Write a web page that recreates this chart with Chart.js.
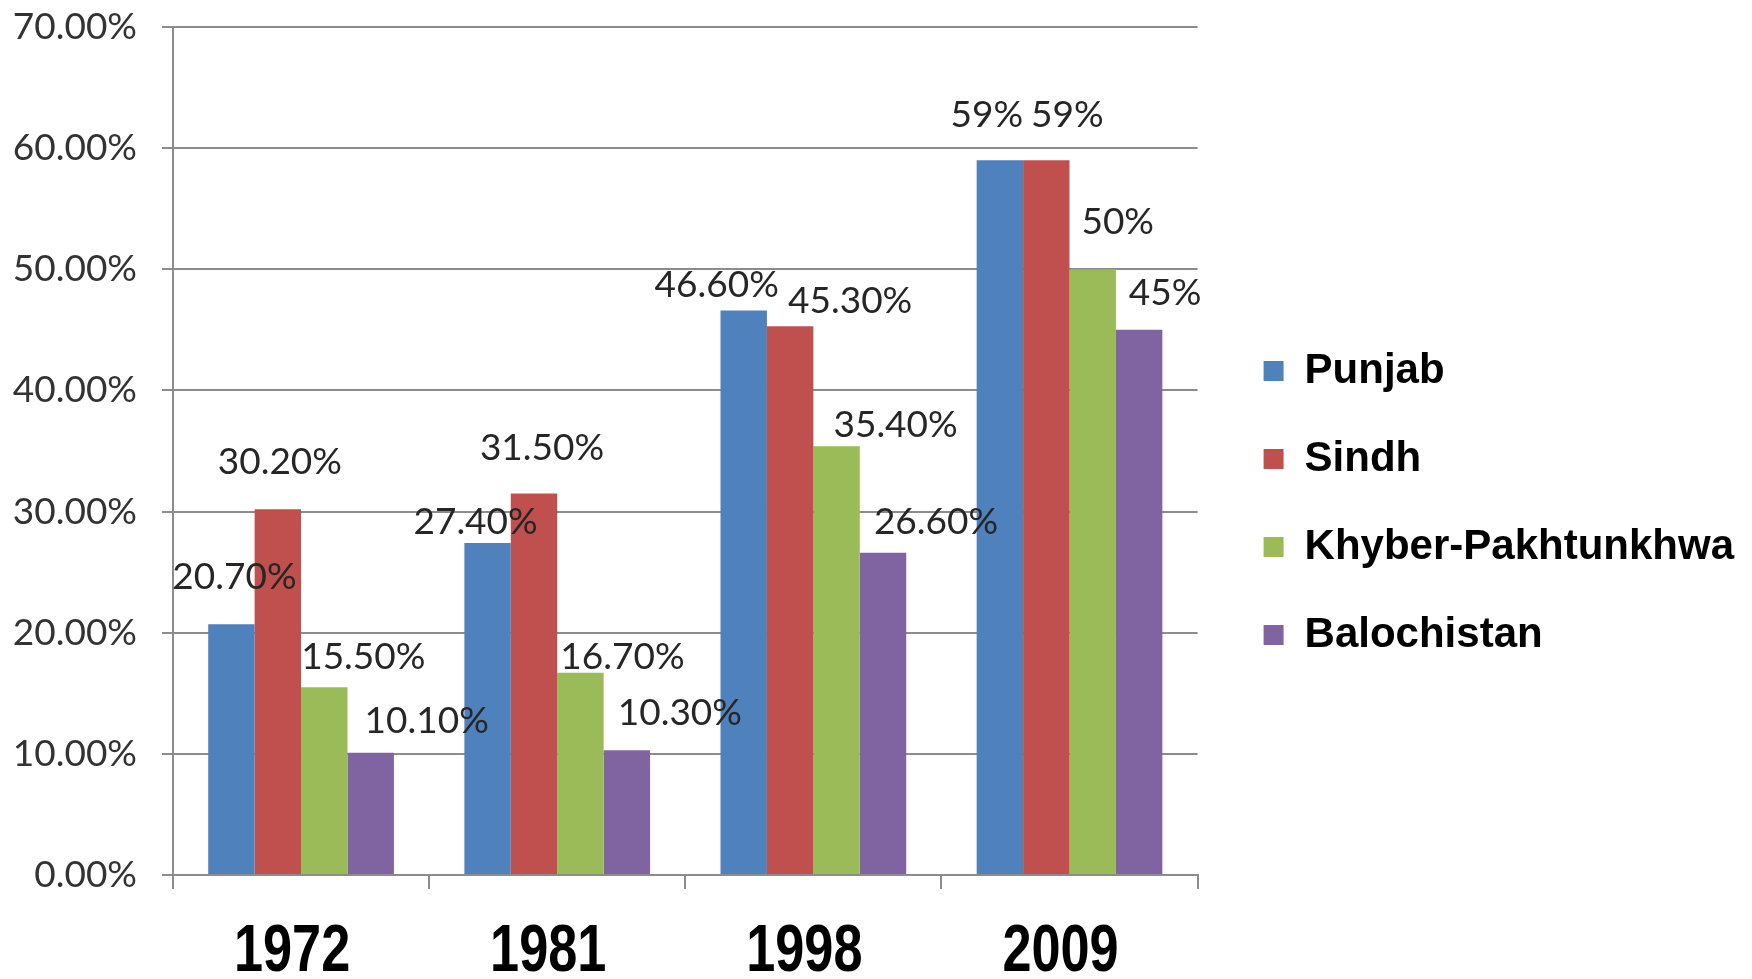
<!DOCTYPE html>
<html>
<head>
<meta charset="utf-8">
<script src="https://cdn.jsdelivr.net/npm/chart.js@4.4.1/dist/chart.umd.min.js"></script>
<style>
  html, body { margin: 0; padding: 0; background: #fff; }
</style>
</head>
<body>
<canvas id="myChart" width="1752" height="979"></canvas>
<script>
// anos (categorias do eixo x)
var anos = ['1972', '1981', '1998', '2009'];

// valores em % por provincia
var punjab = [20.7, 27.4, 46.6, 59];
var sindh = [30.2, 31.5, 45.3, 59];
var khyber = [15.5, 16.7, 35.4, 50];
var balochistan = [10.1, 10.3, 26.6, 45];

// ticks do eixo y
var yTicks = [0, 10, 20, 30, 40, 50, 60, 70];

// onde cada rotulo fica em relacao ao topo da barra [dx, dy] (o grafico original foi ajustado a mao)
var deslocamentos = [
  [[3, -47], [-12, -21], [-27, -25], [-13, -45]],
  [[2, -47], [8, -45], [60, -25], [21, -45]],
  [[39, -30], [42, -16], [59, -21], [25, -47]],
  [[56, -32], [53, -37], [53, -31], [26, -37]]
];

var corGrade = '#8c8c8c';

// desenha os rotulos de valor em cima das barras
var rotulos = {
  id: 'rotulos',
  afterDatasetsDraw: function(chart) {
    var ctx = chart.ctx;
    ctx.save();
    ctx.font = '37px Lato';
    ctx.fillStyle = '#262626';
    ctx.textAlign = 'center';
    ctx.textBaseline = 'middle';
    chart.data.datasets.forEach(function(ds, i) {
      chart.getDatasetMeta(i).data.forEach(function(bar, j) {
        var v = ds.data[j];
        var txt = Number.isInteger(v) ? v + '%' : v.toFixed(2) + '%';
        var d = deslocamentos[i][j];
        ctx.fillText(txt, bar.x + d[0], bar.y + d[1]);
      });
    });
    ctx.restore();
  }
};

// anos do eixo x em negrito estreito (nao tem fonte narrow instalada, entao aperta na mao)
var anosEstreitos = {
  id: 'anosEstreitos',
  afterDraw: function(chart) {
    var ctx = chart.ctx;
    var escala = chart.scales.x;
    ctx.save();
    ctx.font = 'bold 67px "Liberation Sans", Arial, sans-serif';
    ctx.fillStyle = '#000';
    ctx.textAlign = 'center';
    ctx.textBaseline = 'alphabetic';
    escala.ticks.forEach(function(t, i) {
      var x = escala.getPixelForTick(i) - 9;
      ctx.save();
      ctx.translate(x, escala.bottom - 8);
      ctx.scale(0.78, 1);
      ctx.fillText(escala.getLabelForValue(t.value), 0, 0);
      ctx.restore();
    });
    ctx.restore();
  }
};

let ctx = document.getElementById('myChart');

new Chart(ctx, {
  type: 'bar',
  data: {
    labels: anos,
    datasets: [
      { label: 'Punjab', data: punjab, backgroundColor: '#4F81BD' },
      { label: 'Sindh', data: sindh, backgroundColor: '#C0504D' },
      { label: 'Khyber-Pakhtunkhwa', data: khyber, backgroundColor: '#9BBB59' },
      { label: 'Balochistan', data: balochistan, backgroundColor: '#8064A2' }
    ]
  },
  options: {
    responsive: false,
    animation: false,
    categoryPercentage: 0.725,
    barPercentage: 1.0,
    borderWidth: 0,
    layout: {
      padding: { top: 27, left: 12, right: 8, bottom: 0 }
    },
    plugins: {
      tooltip: { enabled: false },
      legend: {
        position: 'right',
        align: 'center',
        maxWidth: 600,
        labels: {
          boxWidth: 20,
          boxHeight: 20,
          padding: 46,
          color: '#000',
          font: { family: "'Liberation Sans', Arial, sans-serif", size: 42, weight: 'bold' }
        }
      }
    },
    scales: {
      x: {
        grid: {
          display: true,
          drawOnChartArea: false,
          drawTicks: true,
          tickLength: 14,
          color: corGrade,
          lineWidth: 2,
          offset: true
        },
        border: { display: true, color: corGrade, width: 2 },
        ticks: {
          color: 'rgba(0,0,0,0)',
          padding: 26,
          font: { family: "'Liberation Sans', sans-serif", size: 63, weight: 'bold', lineHeight: 1 }
        },
        afterFit: function(s) {
          s.height = 104;
          s.paddingLeft = 0;
          s.paddingRight = 0;
        }
      },
      y: {
        min: 0,
        max: 70,
        afterBuildTicks: function(axis) {
          axis.ticks = yTicks.map(function(v) { return { value: v }; });
        },
        grid: { color: corGrade, lineWidth: 2, tickLength: 11 },
        border: { color: corGrade, width: 2 },
        ticks: {
          padding: 25,
          color: '#333',
          font: { family: 'Lato', size: 37 },
          callback: function(v) { return v.toFixed(2) + '%'; }
        },
        afterFit: function(s) {
          s.width = 161;
          s.paddingTop = 0;
          s.paddingBottom = 0;
        }
      },
      // eixo vazio so para abrir espaco entre o grafico e a legenda
      y2: {
        position: 'right',
        display: true,
        grid: { display: false },
        ticks: { display: false },
        border: { display: false },
        afterFit: function(s) { s.width = 20; }
      }
    }
  },
  plugins: [rotulos, anosEstreitos]
});
</script>
</body>
</html>
